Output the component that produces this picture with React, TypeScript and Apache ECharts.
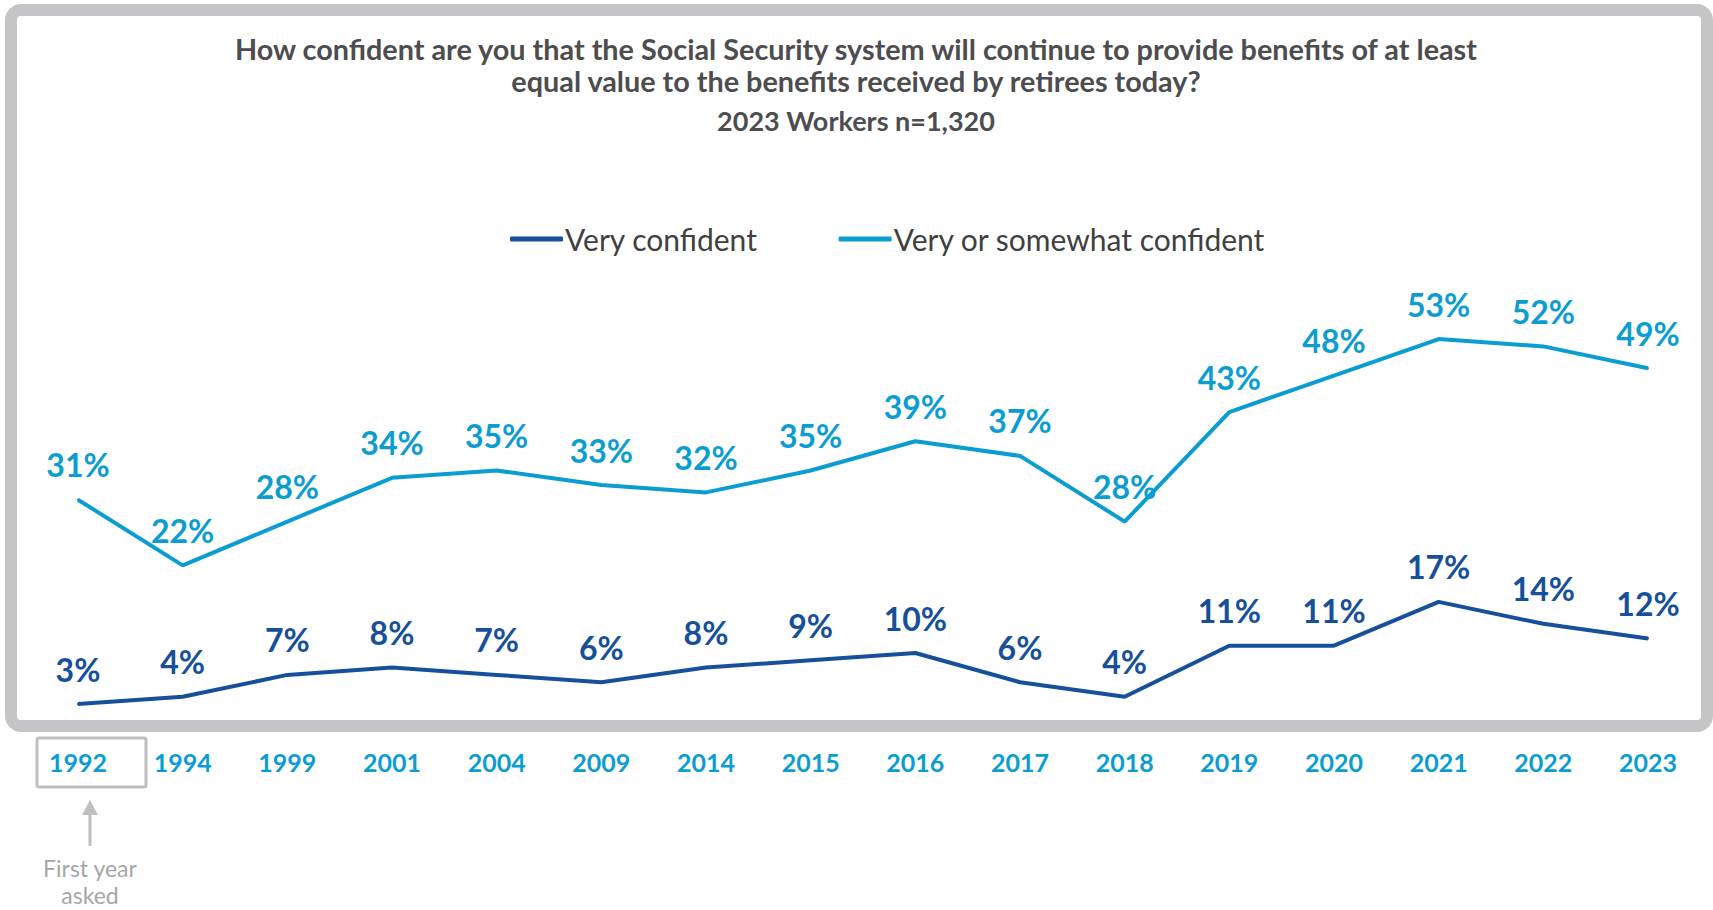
import React, { useEffect, useRef } from "react";
import * as echarts from "echarts";

const years = ["1992", "1994", "1999", "2001", "2004", "2009", "2014", "2015", "2016", "2017", "2018", "2019", "2020", "2021", "2022", "2023"];
const veryConfident = [3, 4, 7, 8, 7, 6, 8, 9, 10, 6, 4, 11, 11, 17, 14, 12];
const veryOrSomewhat = [31, 22, 28, 34, 35, 33, 32, 35, 39, 37, 28, 43, 48, 53, 52, 49];

const titleLines = [
  "How confident are you that the Social Security system will continue to provide benefits of at least",
  "equal value to the benefits received by retirees today?",
];
const subtitle = "2023 Workers n=1,320";
const seriesNames = ["Very confident", "Very or somewhat confident"];
const noteText = "First year\nasked";

const DARK = "#16509A";
const LIGHT = "#0B9DD1";
const FONT = "Lato, 'Open Sans', sans-serif";
const TITLE_COLOR = "#4D4D4F";

export default function App() {
  const ref = useRef<HTMLDivElement>(null);
  useEffect(() => {
    if (!ref.current) return;
    const chart = echarts.init(ref.current, null, { renderer: "svg" });
    const labelCfg = (color: string) => ({
      show: true,
      position: "top",
      distance: 18,
      formatter: "{c}%",
      color,
      fontFamily: FONT,
      fontWeight: "bold",
      fontSize: 32,
    });
    const titleText = (text: string, y: number, size: number) => ({
      type: "text",
      x: 856,
      y,
      style: {
        text,
        fill: TITLE_COLOR,
        fontSize: size,
        fontWeight: "bold",
        fontFamily: FONT,
        align: "center",
        verticalAlign: "middle",
      },
    });
    chart.setOption({
      animation: false,
      backgroundColor: "#ffffff",
      textStyle: { fontFamily: FONT },
      legend: {
        left: 505,
        top: 219,
        itemWidth: 53,
        itemHeight: 5,
        itemGap: 81,
        icon: "roundRect",
        textStyle: { color: "#404040", fontSize: 30, fontFamily: FONT, padding: [0, 0, 0, -3] },
        data: seriesNames,
      },
      grid: { left: 78, right: 65, top: 142, bottom: 184 },
      xAxis: {
        type: "category",
        data: years,
        boundaryGap: false,
        axisLine: { show: false },
        axisTick: { show: false },
        axisLabel: { color: LIGHT, fontSize: 25, fontWeight: "bold", margin: 23, fontFamily: FONT },
      },
      yAxis: { type: "value", min: 0, max: 80, show: false, splitLine: { show: false } },
      graphic: [
        {
          type: "rect",
          z: 0,
          shape: { x: 11, y: 10, width: 1696, height: 716, r: 10 },
          style: { fill: "none", stroke: "#C5C4C7", lineWidth: 12 },
        },
        titleText(titleLines[0], 49, 28.8),
        titleText(titleLines[1], 81, 28.8),
        titleText(subtitle, 120, 27),
        {
          type: "rect",
          shape: { x: 37, y: 738, width: 109, height: 49, r: 2 },
          style: { fill: "none", stroke: "#BFBFBF", lineWidth: 3 },
        },
        {
          type: "line",
          shape: { x1: 90, y1: 846, x2: 90, y2: 812 },
          style: { stroke: "#BFBFBF", lineWidth: 3 },
        },
        {
          type: "polygon",
          shape: { points: [[82, 815], [98, 815], [90, 800]] },
          style: { fill: "#BFBFBF" },
        },
        {
          type: "text",
          x: 90,
          y: 854,
          style: {
            text: noteText,
            fill: "#A6A6A6",
            fontSize: 23,
            lineHeight: 27,
            align: "center",
            verticalAlign: "top",
            fontFamily: FONT,
          },
        },
      ],
      series: [
        {
          name: seriesNames[0],
          type: "line",
          data: veryConfident,
          symbol: "circle",
          symbolSize: 2,
          showSymbol: true,
          lineStyle: { color: DARK, width: 4 },
          itemStyle: { color: DARK },
          label: labelCfg(DARK),
          z: 3,
        },
        {
          name: seriesNames[1],
          type: "line",
          data: veryOrSomewhat,
          symbol: "circle",
          symbolSize: 2,
          showSymbol: true,
          lineStyle: { color: LIGHT, width: 4 },
          itemStyle: { color: LIGHT },
          label: labelCfg(LIGHT),
          z: 3,
        },
      ],
    });
    return () => chart.dispose();
  }, []);
  return <div ref={ref} style={{ position: "absolute", left: 0, top: 0, width: 1713, height: 910 }} />;
}
